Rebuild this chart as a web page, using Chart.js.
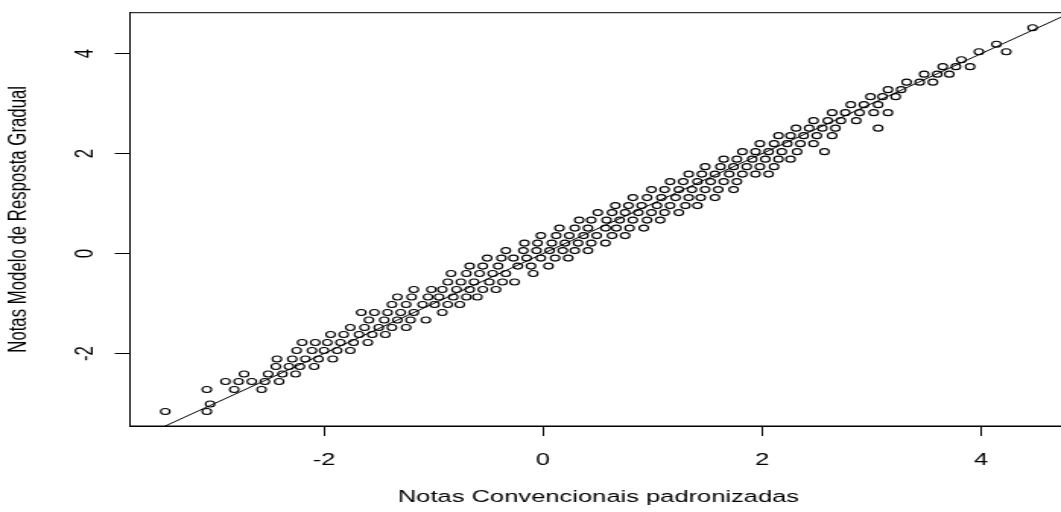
<!DOCTYPE html>
<html>
<head>
<meta charset="utf-8">
<script src="https://cdn.jsdelivr.net/npm/chart.js@4"></script>
<style>
html,body{margin:0;padding:0;background:#fff;overflow:hidden;}
/* the plot is laid out narrow and stretched sideways */
#wrap{width:710px;height:512px;transform:scaleX(1.52);transform-origin:0 0;}
</style>
</head>
<body>
<div id="wrap"><canvas id="grafico"></canvas></div>
<script>
/* Notas no modelo de resposta gradual: um nível por linha */
const notasMRG = [
  -3.16, -3.01, -2.72, -2.56, -2.41, -2.26, -2.11, -1.94, -1.78, -1.62,
  -1.48, -1.33, -1.18, -1.02, -0.87, -0.72, -0.57, -0.40, -0.25, -0.09,
   0.06,  0.21,  0.36,  0.51,  0.67,  0.82,  0.96,  1.12,  1.28,  1.44,
   1.59,  1.74,  1.89,  2.04,  2.20,  2.36,  2.51,  2.66,  2.82,  2.98,
   3.14,  3.28,  3.43,  3.59,  3.74,  3.88,  4.04,  4.19,  4.52
];
/* Notas convencionais padronizadas observadas em cada nível acima */
const notasConv = [
  [-3.45, -3.07],
  [-3.04],
  [-3.07, -2.82, -2.57],
  [-2.90, -2.78, -2.66, -2.54, -2.41],
  [-2.73, -2.51, -2.38, -2.26],
  [-2.44, -2.32, -2.22, -2.09],
  [-2.43, -2.29, -2.17, -2.05, -1.92],
  [-2.25, -2.11, -2.00, -1.88, -1.76],
  [-2.20, -2.08, -1.97, -1.85, -1.73, -1.60],
  [-1.94, -1.82, -1.68, -1.56, -1.44],
  [-1.76, -1.63, -1.50, -1.38, -1.25],
  [-1.59, -1.45, -1.33, -1.21, -1.07],
  [-1.66, -1.54, -1.42, -1.30, -1.18, -0.92],
  [-1.38, -1.25, -1.10, -0.99, -0.87, -0.76],
  [-1.33, -1.20, -1.05, -0.95, -0.82, -0.70, -0.60],
  [-1.18, -1.02, -0.92, -0.79, -0.67, -0.55, -0.43],
  [-0.87, -0.75, -0.63, -0.49, -0.37, -0.26],
  [-0.84, -0.70, -0.58, -0.46, -0.34, -0.09],
  [-0.67, -0.55, -0.41, -0.23, -0.11, 0.05],
  [-0.51, -0.38, -0.27, -0.15, -0.02, 0.11, 0.23],
  [-0.34, -0.18, -0.06, 0.06, 0.18, 0.29, 0.41],
  [-0.17, -0.05, 0.08, 0.20, 0.32, 0.44, 0.57],
  [-0.02, 0.12, 0.24, 0.37, 0.49, 0.63, 0.75],
  [0.15, 0.29, 0.41, 0.57, 0.67, 0.79, 0.92],
  [0.33, 0.44, 0.58, 0.70, 0.82, 0.95, 1.07],
  [0.50, 0.63, 0.75, 0.87, 0.99, 1.11, 1.24],
  [0.66, 0.78, 0.90, 1.04, 1.16, 1.30, 1.41],
  [0.82, 0.95, 1.08, 1.21, 1.33, 1.44, 1.57],
  [0.99, 1.11, 1.24, 1.36, 1.48, 1.60, 1.74],
  [1.16, 1.28, 1.41, 1.53, 1.65, 1.77],
  [1.33, 1.45, 1.57, 1.70, 1.82, 1.94, 2.06],
  [1.48, 1.62, 1.74, 1.86, 1.98, 2.11],
  [1.65, 1.77, 1.91, 2.03, 2.15, 2.26],
  [1.82, 1.94, 2.06, 2.18, 2.32, 2.57],
  [1.98, 2.11, 2.23, 2.35, 2.47],
  [2.15, 2.26, 2.38, 2.50, 2.64],
  [2.31, 2.43, 2.55, 2.67, 3.06],
  [2.47, 2.60, 2.72, 2.86],
  [2.64, 2.76, 2.89, 3.02, 3.15],
  [2.81, 2.93, 3.06],
  [2.99, 3.10, 3.22],
  [3.15, 3.27],
  [3.32, 3.44, 3.56],
  [3.48, 3.60, 3.71],
  [3.65, 3.77, 3.90],
  [3.82],
  [3.98, 4.23],
  [4.14],
  [4.47]
];
const xLim = [-3.772, 4.785];
const yLim = [-3.45, 4.82];
const xTicks = [-2, 0, 2, 4];
const yTicks = [-2, 0, 2, 4];

const pontos = [];
notasMRG.forEach((y, i) => notasConv[i].forEach(x => pontos.push({x, y})));
// reta identidade (intercepto 0, inclinação 1)
const reta = xLim.map(v => ({x: v, y: v}));

const fonte = {family: "'Liberation Sans', Arial, sans-serif", size: 16.8};
const eixo = {
  grid: {drawOnChartArea: false, drawTicks: true, tickLength: 10, color: '#000', lineWidth: 1},
  border: {display: true, color: '#000', width: 1}
};
// sem folga extra para os rótulos: a área do gráfico fica onde a gente manda
const semFolga = s => { s.paddingTop = 0; s.paddingBottom = 0; s.paddingLeft = 0; s.paddingRight = 0; };

// caixa completa em volta da área do gráfico
const moldura = {
  id: 'moldura',
  afterDatasetsDraw(chart){
    const {ctx, chartArea: a} = chart;
    ctx.save();
    ctx.strokeStyle = '#000';
    ctx.lineWidth = 1;
    ctx.strokeRect(a.left, a.top, a.right - a.left, a.bottom - a.top);
    ctx.restore();
  }
};

new Chart(document.getElementById('grafico'), {
  type: 'scatter',
  data: {datasets: [{
    data: pontos, pointStyle: 'circle', pointRadius: 3, pointHoverRadius: 3,
    borderColor: '#000', backgroundColor: 'rgba(0,0,0,0)', borderWidth: 1.1
  }, {
    data: reta, showLine: true, pointRadius: 0, borderColor: '#000', borderWidth: 1, fill: false, clip: 0
  }]},
  options: {
    responsive: true, maintainAspectRatio: false, animation: false, events: [],
    layout: {autoPadding: false, padding: {left: 0, top: 12.7, right: 8, bottom: 0}},
    plugins: {legend: {display: false}, tooltip: {enabled: false}},
    scales: {
      x: {
        ...eixo, type: 'linear', min: xLim[0], max: xLim[1],
        afterFit: s => { s.height = 86; semFolga(s); },
        afterBuildTicks: s => { s.ticks = xTicks.map(v => ({value: v})); },
        ticks: {color: '#000', font: fonte, padding: 14, maxRotation: 0, autoSkip: false, callback: v => String(v)},
        title: {display: true, text: 'Notas Convencionais padronizadas', color: '#000', font: fonte, padding: {top: 0, bottom: 5}}
      },
      y: {
        ...eixo, type: 'linear', min: yLim[0], max: yLim[1],
        afterFit: s => { s.width = 85.5; semFolga(s); },
        afterBuildTicks: s => { s.ticks = yTicks.map(v => ({value: v})); },
        ticks: {color: '#000', font: fonte, padding: 11.5, minRotation: 90, maxRotation: 90, crossAlign: 'center', autoSkip: false, callback: v => String(v)},
        title: {display: true, text: 'Notas Modelo de Resposta Gradual', color: '#000', font: fonte, padding: {top: 2, bottom: 0}}
      }
    }
  },
  plugins: [moldura]
});
</script>
</body>
</html>
